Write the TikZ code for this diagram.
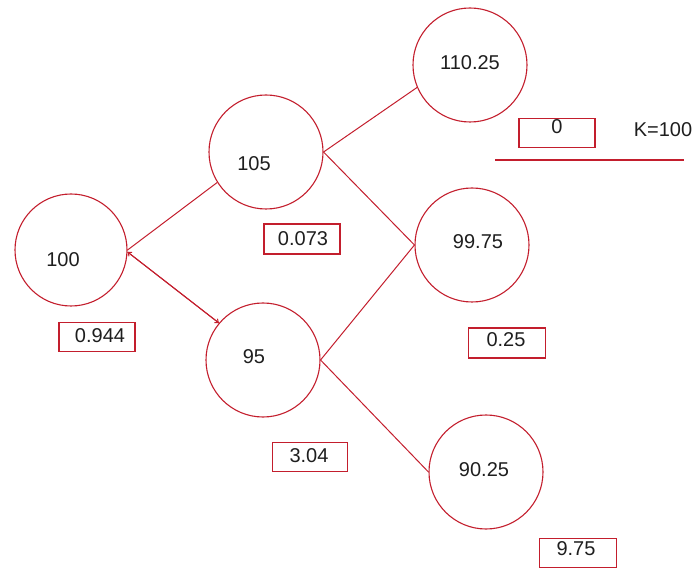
\documentclass[tikz,border=0pt]{standalone}
\usepackage{fontspec}
\setmainfont{Liberation Sans}
\usetikzlibrary{arrows.meta}
\definecolor{lred}{RGB}{195,30,45}
\definecolor{ltext}{RGB}{30,30,30}
\tikzset{
  state/.style={circle, draw=lred, line width=1.1pt, inner sep=0pt},
  lbl/.style={text=ltext, font=\fontsize{20}{24}\selectfont, inner sep=0pt, anchor=center},
  valbox/.style={rectangle, draw=lred, line width=1.1pt, inner sep=0pt},
  link/.style={draw=lred, line width=1pt},
  tip/.style={-{Straight Barb[length=3pt,width=5pt]}}
}
\begin{document}
\begin{tikzpicture}[x=1pt,y=-1pt]
\useasboundingbox (0,0) rectangle (699,569);
% circles
\node[state, minimum size=112pt] (n100) at (71,250) {};
\node[state, minimum size=114pt] (n105) at (266,152) {};
\node[state, minimum size=114pt] (n110) at (470,65) {};
\node[state, minimum size=114pt] (n99) at (472,245) {};
\node[state, minimum size=114pt] (n95) at (263,360) {};
\node[state, minimum size=114pt] (n90) at (486,472) {};
% circle texts
\node[lbl] (t100) at (63,260) {100};
\node[lbl] (t105) at (254,164) {105};
\node[lbl] (t110) at (470,63) {110.25};
\node[lbl] (t99) at (478,242) {99.75};
\node[lbl] (t95) at (254,357) {95};
\node[lbl] (t90) at (484,470) {90.25};
% boxes
\node[valbox, minimum width=76pt, minimum height=30pt] (b105) at (302,239) {};
\node[valbox, minimum width=76pt, minimum height=29pt] (b100) at (97,337) {};
\node[valbox, minimum width=75pt, minimum height=29pt] (b95) at (310,457) {};
\node[valbox, minimum width=77pt, minimum height=30pt] (b99) at (507,343) {};
\node[valbox, minimum width=77pt, minimum height=29pt] (b90) at (578,553) {};
\node[valbox, minimum width=76pt, minimum height=29pt] (b110) at (557,133) {};
% box texts
\node[lbl] (v105) at (303,239) {0.073};
\node[lbl] (v100) at (100,336) {0.944};
\node[lbl] (v95) at (309,456) {3.04};
\node[lbl] (v99) at (506,340) {0.25};
\node[lbl] (v90) at (576,549) {9.75};
\node[lbl] (v110) at (557,127) {0};
\node[lbl] (kval) at (663,130) {K=100};
% strike line
\coordinate (la) at (495,160);
\coordinate (lb) at (684,160);
\draw[link, line width=1.2pt] (la) -- (lb);
% connectors
\draw[link] (n100.east) -- (n105.212);
\draw[link, tip] ([yshift=-2pt]n100.east) -- (n95.140);
\draw[link, tip] (n95.140) -- ([yshift=-2pt]n100.east);
\draw[link] (n105.east) -- (n110.203);
\draw[link] (n105.east) -- (n99.west);
\draw[link] (n95.east) -- (n99.west);
\draw[link] (n95.east) -- (n90.west);
\end{tikzpicture}
\end{document}
